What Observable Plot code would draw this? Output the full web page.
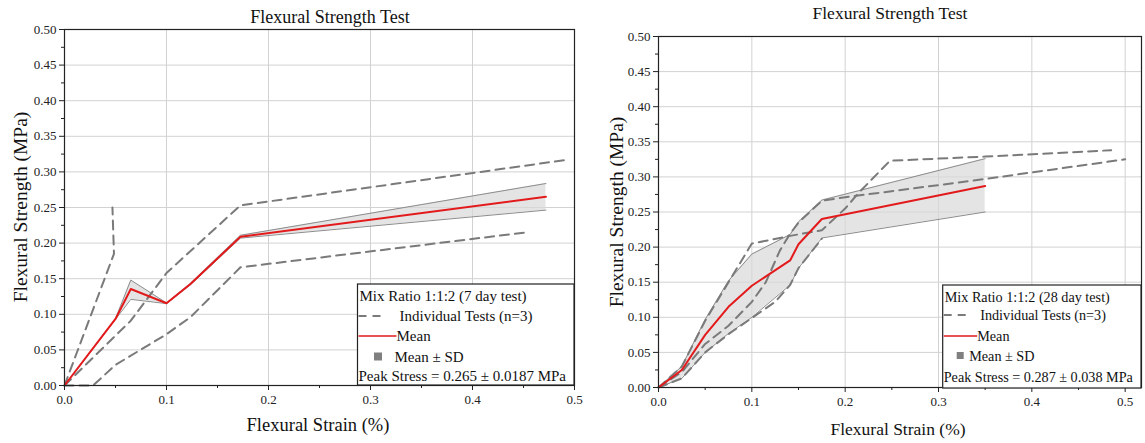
<!DOCTYPE html>
<html>
<head>
<meta charset="utf-8">
<script src="https://cdn.jsdelivr.net/npm/d3@7"></script>
<script src="https://cdn.jsdelivr.net/npm/@observablehq/plot@0.6"></script>
<style>
  html, body { margin: 0; padding: 0; background: #fff; }
  #wrap { position: relative; width: 1145px; height: 443px; overflow: hidden; background: #fff; }
  #wrap svg, #wrap svg text { font-family: "Liberation Serif", "Times New Roman", Times, serif !important; }
  .pane { position: absolute; top: 0; }
  #overlay { position: absolute; left: 0; top: 0; pointer-events: none; }
</style>
</head>
<body>
<div id="wrap">
  <div id="left" class="pane" style="left:0px;width:590px;"></div>
  <div id="right" class="pane" style="left:580px;width:565px;"></div>
</div>
<script>
// ---------- DATA: 7 day test (left panel) ----------
const strain7_test1 = [0, 0.0485, 0.047];
const stress7_test1 = [0, 0.185, 0.25];
const strain7_test2 = [0, 0.065, 0.1, 0.1725, 0.493];
const stress7_test2 = [0, 0.091, 0.158, 0.253, 0.317];
const strain7_test3 = [0, 0.028, 0.05, 0.1, 0.1235, 0.1725, 0.455];
const stress7_test3 = [0, 0, 0.029, 0.072, 0.096, 0.166, 0.2155];
const strain7_mean = [0, 0.05, 0.065, 0.1, 0.1235, 0.1725, 0.472];
const stress7_mean = [0, 0.0935, 0.1355, 0.1155, 0.1425, 0.209, 0.265];
const stress7_sdHi = [0, 0.094, 0.148, 0.116, 0.1435, 0.211, 0.2837];
const stress7_sdLo = [0, 0.093, 0.121, 0.115, 0.1415, 0.207, 0.2463];

// ---------- DATA: 28 day test (right panel) ----------
const strain28_testA = [0, 0.025, 0.05, 0.075, 0.1, 0.141, 0.175, 0.2, 0.215, 0.248, 0.35, 0.485];
const stress28_testA = [0, 0.03, 0.095, 0.15, 0.205, 0.216, 0.224, 0.255, 0.278, 0.323, 0.329, 0.338];
const strain28_testB = [0, 0.025, 0.05, 0.075, 0.1, 0.115, 0.13, 0.141, 0.15, 0.175, 0.2, 0.35, 0.5];
const stress28_testB = [0, 0.022, 0.062, 0.088, 0.122, 0.15, 0.195, 0.219, 0.235, 0.266, 0.271, 0.297, 0.325];
const strain28_testC = [0, 0.025, 0.05, 0.075, 0.1, 0.125, 0.141, 0.15, 0.175];
const stress28_testC = [0, 0.013, 0.05, 0.076, 0.099, 0.122, 0.146, 0.17, 0.212];
const strain28_mean = [0, 0.025, 0.05, 0.075, 0.1, 0.141, 0.15, 0.175, 0.35];
const stress28_mean = [0, 0.025, 0.075, 0.115, 0.145, 0.181, 0.204, 0.24, 0.287];
const stress28_sdHi = [0, 0.03, 0.097, 0.152, 0.19, 0.218, 0.236, 0.267, 0.326];
const stress28_sdLo = [0, 0.013, 0.05, 0.077, 0.1, 0.146, 0.17, 0.213, 0.25];

// ---------- ticks & texts ----------
const xTicks = [0, 0.1, 0.2, 0.3, 0.4, 0.5];
const xMinor = [0.05, 0.15, 0.25, 0.35, 0.45];
const yTicks = [0, 0.05, 0.1, 0.15, 0.2, 0.25, 0.3, 0.35, 0.4, 0.45, 0.5];
const yMinor = [0.025, 0.075, 0.125, 0.175, 0.225, 0.275, 0.325, 0.375, 0.425, 0.475];
const chartTitle = "Flexural Strength Test";
const xTitle = "Flexural Strain (%)";
const yTitle = "Flexural Strength (MPa)";
const legend7 = ["Mix Ratio 1:1:2 (7 day test)", "Individual Tests (n=3)", "Mean", "Mean ± SD", "Peak Stress = 0.265 ± 0.0187 MPa"];
const legend28 = ["Mix Ratio 1:1:2 (28 day test)", "Individual Tests (n=3)", "Mean", "Mean ± SD", "Peak Stress = 0.287 ± 0.038 MPa"];

const FONT = "Liberation Serif, Times New Roman, Times, serif";

function zipXY(xs, ys, test) { return xs.map((x, i) => ({x, y: ys[i], test})); }
function zipBand(xs, m, lo, hi) { return xs.map((x, i) => ({x, y: m[i], lo: lo[i], hi: hi[i]})); }

function panel(o) {
  return Plot.plot({
    width: o.width, height: 443,
    marginLeft: o.ml, marginRight: o.mr, marginTop: o.mt, marginBottom: o.mb,
    style: {fontFamily: FONT, fontSize: "13px", background: "transparent", color: "#222", overflow: "visible"},
    x: {domain: [0, o.xmax], label: null},
    y: {domain: [0, 0.5], label: null},
    marks: [
      Plot.gridX(xTicks, {stroke: "#d2d2d2", strokeOpacity: 1}),
      Plot.gridY(yTicks, {stroke: "#d2d2d2", strokeOpacity: 1}),
      Plot.areaY(o.band, {x: "x", y1: "lo", y2: "hi", fill: "#d9d9d9", fillOpacity: 0.7}),
      Plot.line(o.band, {x: "x", y: "hi", stroke: "#8c8c8c", strokeWidth: 1}),
      Plot.line(o.band, {x: "x", y: "lo", stroke: "#8c8c8c", strokeWidth: 1}),
      Plot.line(o.tests, {x: "x", y: "y", z: "test", stroke: "#7a7a7a", strokeWidth: 2, strokeDasharray: "9,6"}),
      Plot.line(o.band, {x: "x", y: "y", stroke: "#e31a1c", strokeWidth: 2}),
      Plot.axisX(xTicks, {tickSize: 5, tickPadding: 4, tickFormat: d3.format(".1f"), label: null}),
      Plot.axisX(xMinor, {tickSize: 3, fill: "none", label: null}),
      Plot.axisY(yTicks, {tickSize: 5, tickPadding: 3, tickFormat: d3.format(".2f"), label: null}),
      Plot.axisY(yMinor, {tickSize: 3, fill: "none", label: null}),
      Plot.frame({stroke: "#222", strokeWidth: 1.2})
    ]
  });
}

const tests7 = [
  ...zipXY(strain7_test1, stress7_test1, "1"),
  ...zipXY(strain7_test2, stress7_test2, "2"),
  ...zipXY(strain7_test3, stress7_test3, "3")
];
const band7 = zipBand(strain7_mean, stress7_mean, stress7_sdLo, stress7_sdHi);
const tests28 = [
  ...zipXY(strain28_testA, stress28_testA, "A"),
  ...zipXY(strain28_testB, stress28_testB, "B"),
  ...zipXY(strain28_testC, stress28_testC, "C")
];
const band28 = zipBand(strain28_mean, stress28_mean, stress28_sdLo, stress28_sdHi);

document.getElementById("left").append(panel({
  width: 590, ml: 64, mr: 16, mt: 29, mb: 58, xmax: 0.5, tests: tests7, band: band7
}));
document.getElementById("right").append(panel({
  width: 565, ml: 78, mr: 4, mt: 36, mb: 56, xmax: 0.5175, tests: tests28, band: band28
}));

// ---------- overlay: titles, axis titles, legends ----------
const svg = d3.select("#wrap").append("svg")
  .attr("id", "overlay").attr("width", 1145).attr("height", 443);

function txt(x, y, s, size, anchor = "middle", rot = false) {
  const t = svg.append("text").attr("fill", "#111").attr("font-size", size)
    .attr("text-anchor", anchor).text(s);
  if (rot) t.attr("transform", `translate(${x},${y}) rotate(-90)`);
  else t.attr("x", x).attr("y", y);
  return t;
}

txt(330, 23, chartTitle, 18);
txt(890, 18.5, chartTitle, 17.5);
txt(318, 431, xTitle, 18.5);
txt(898, 435, xTitle, 17.5);
txt(27, 207, yTitle, 19.5, "middle", true);
txt(623, 212, yTitle, 19.5, "middle", true);

function legend(L, labels) {
  svg.append("rect").attr("x", L.x).attr("y", L.y).attr("width", L.w).attr("height", L.h)
    .attr("fill", "#fff").attr("stroke", "#222").attr("stroke-width", 1.2);
  txt(L.x + 2, L.base[0], labels[0], L.fs, "start");
  svg.append("line").attr("x1", L.x + 1).attr("x2", L.x + L.dashW).attr("y1", L.base[1] - 5).attr("y2", L.base[1] - 5)
    .attr("stroke", "#7a7a7a").attr("stroke-width", 2).attr("stroke-dasharray", "8,6");
  txt(L.x + L.t1, L.base[1], labels[1], L.fs, "start");
  svg.append("line").attr("x1", L.x + 1).attr("x2", L.x + L.redW).attr("y1", L.base[2] - 5).attr("y2", L.base[2] - 5)
    .attr("stroke", "#e31a1c").attr("stroke-width", 1.6);
  txt(L.x + L.redW, L.base[2], labels[2], L.fs, "start");
  svg.append("rect").attr("x", L.x + L.sqX).attr("y", L.base[3] - 9).attr("width", L.sq).attr("height", L.sq)
    .attr("fill", "#808080");
  txt(L.x + L.t3, L.base[3], labels[3], L.fs, "start");
  txt(L.x + 1, L.base[4], labels[4], L.fs, "start");
}

legend({x: 357.5, y: 284, w: 216.5, h: 101, fs: 15, base: [300.5, 321, 341, 361.5, 380.5],
        dashW: 24, t1: 42, redW: 39, sqX: 16.5, sq: 8, t3: 37}, legend7);
legend({x: 942.7, y: 285, w: 198.3, h: 103, fs: 14.2, base: [301.5, 320, 341, 361, 381.5],
        dashW: 26, t1: 37.5, redW: 34.5, sqX: 14, sq: 7, t3: 26.5}, legend28);
</script>
</body>
</html>
